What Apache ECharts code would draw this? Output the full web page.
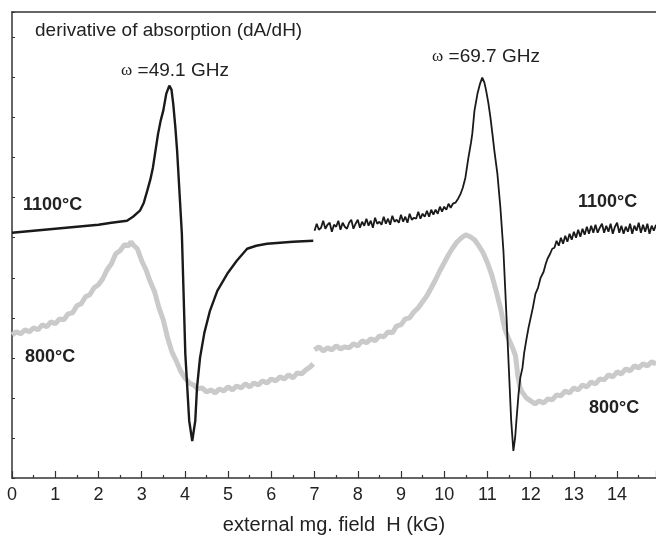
<!DOCTYPE html>
<html>
<head>
<meta charset="utf-8">
<script src="https://cdn.jsdelivr.net/npm/echarts@6/dist/echarts.min.js"></script>
<style>
html,body{margin:0;padding:0;background:#fff;}
#chart{width:656px;height:537px;}
</style>
</head>
<body>
<div id="chart"></div>
<script>
// ---- data (field in kG, signal in arbitrary units) ----
var xTickLabels = ['0','1','2','3','4','5','6','7','8','9','10','11','12','13','14'];

// 1100°C, low-field sweep (49.1 GHz)
var h1100a = [0.0,0.5,1.0,1.5,2.0,2.3,2.66,2.8,2.96,3.05,3.13,3.2,3.26,3.32,3.38,3.44,3.5,3.57,3.64,3.69,3.73,3.78,3.82,3.93,4.01,4.1,4.17,4.24,4.28,4.35,4.45,4.58,4.75,4.98,5.2,5.44,5.65,5.9,6.2,6.5,6.97];
var s1100a = [245,247,249,251,253,255,257,261,267,275,287,298,310,327,344,357,367,384,392,388,374,350,327,244,124,57,37,57,90,120,145,167,187,204,217,229,232,234,235,236,237];

// 800°C, low-field sweep
var h800a = [0.0,0.1,0.2,0.3,0.4,0.5,0.6,0.7,0.8,0.9,1.0,1.1,1.2,1.3,1.4,1.5,1.6,1.7,1.8,1.9,2.0,2.1,2.2,2.3,2.4,2.5,2.6,2.7,2.75,2.8,2.9,3.0,3.1,3.2,3.3,3.4,3.5,3.6,3.7,3.8,3.9,4.0,4.1,4.2,4.3,4.4,4.5,4.6,4.7,4.8,4.9,5.0,5.1,5.2,5.3,5.4,5.5,5.6,5.7,5.8,5.9,6.0,6.1,6.2,6.3,6.4,6.5,6.6,6.7,6.8,6.9,6.97];
var s800a = [143,146,144,148,146,150,148,153,151,156,154,159,158,164,165,172,174,181,183,190,193,199,208,214,224,227,233,232,236,233,229,217,208,196,186,170,158,140,126,117,107,100,95,93,89,90,86,88,85,89,87,91,88,92,90,94,91,95,93,97,95,99,97,101,99,103,100,105,104,108,111,114];

// 1100°C, high-field sweep (69.7 GHz)
var h1100b = [7.0,7.05,7.1,7.15,7.2,7.25,7.3,7.35,7.4,7.45,7.5,7.55,7.6,7.65,7.7,7.75,7.8,7.85,7.9,7.95,8.0,8.05,8.1,8.15,8.2,8.25,8.3,8.35,8.4,8.45,8.5,8.55,8.6,8.65,8.7,8.75,8.8,8.85,8.9,8.95,9.0,9.05,9.1,9.15,9.2,9.25,9.3,9.35,9.4,9.45,9.5,9.55,9.6,9.65,9.7,9.75,9.8,9.85,9.9,9.95,10.0,10.05,10.1,10.15,10.2,10.26,10.32,10.37,10.43,10.49,10.56,10.62,10.65,10.7,10.77,10.83,10.88,10.93,10.97,11.02,11.07,11.12,11.16,11.23,11.3,11.37,11.41,11.48,11.55,11.6,11.64,11.67,11.72,11.76,11.81,11.85,11.9,11.95,12.0,12.05,12.11,12.17,12.23,12.3,12.35,12.39,12.45,12.5,12.55,12.6,12.65,12.7,12.75,12.8,12.85,12.9,12.95,13.0,13.05,13.1,13.15,13.2,13.25,13.3,13.35,13.4,13.45,13.5,13.55,13.6,13.65,13.7,13.75,13.8,13.85,13.9,13.95,14.0,14.05,14.1,14.15,14.2,14.25,14.3,14.35,14.4,14.45,14.5,14.55,14.6,14.65,14.7,14.75,14.8,14.85,14.9];
var s1100b = [247,254,248,250,257,249,253,255,246,253,251,257,248,255,251,249,255,258,249,254,258,250,256,252,259,252,257,250,260,254,256,253,261,254,259,253,262,256,258,255,263,256,261,255,264,258,260,259,266,259,264,261,267,261,268,263,268,264,271,266,271,268,274,270,274,275,279,283,290,300,320,335,344,367,384,394,400,395,387,375,360,342,327,304,270,227,190,124,57,27,40,57,84,100,110,125,138,150,160,170,184,190,200,206,214,219,224,229,230,237,232,240,234,242,236,244,238,246,240,248,241,249,243,251,244,252,245,253,245,250,254,245,252,246,254,244,251,255,245,252,244,251,246,254,244,252,247,255,245,253,246,254,244,252,247,253];

// 800°C, high-field sweep
var h800b = [7.0,7.1,7.2,7.3,7.4,7.5,7.6,7.7,7.8,7.9,8.0,8.1,8.2,8.3,8.4,8.5,8.6,8.7,8.8,8.9,9.0,9.1,9.2,9.3,9.4,9.5,9.6,9.7,9.8,9.9,10.0,10.1,10.2,10.3,10.4,10.5,10.6,10.7,10.8,10.9,11.0,11.1,11.2,11.3,11.4,11.5,11.6,11.65,11.7,11.75,11.8,11.9,12.0,12.1,12.2,12.3,12.4,12.5,12.6,12.7,12.8,12.9,13.0,13.1,13.2,13.3,13.4,13.5,13.6,13.7,13.8,13.9,14.0,14.1,14.2,14.3,14.4,14.5,14.6,14.7,14.8,14.9];
var s800b = [128,131,127,130,128,132,129,131,130,134,132,137,135,139,137,142,141,146,145,152,153,159,160,166,170,176,182,190,198,207,215,223,230,236,240,243,241,238,232,225,215,203,187,170,149,138,128,122,103,91,86,80,77,74,77,75,79,78,83,82,87,85,90,88,93,91,96,94,99,98,103,101,106,104,109,107,112,110,114,112,116,114];

function pairs(xs, ys){ var out=[]; for(var i=0;i<xs.length;i++){ out.push([xs[i], ys[i]]); } return out; }

var chart = echarts.init(document.getElementById('chart'), null, {renderer:'canvas'});
var txt = '#222';
var FONT = '"Liberation Sans", Arial, sans-serif';
var option = {
  animation:false,
  backgroundColor:'#fff',
  grid:{left:12, right:0, top:12, bottom:59, containLabel:false, outerBoundsMode:'none'},
  xAxis:[{
    type:'value', min:0, max:14.9, interval:1,
    axisLine:{show:true, onZero:false, lineStyle:{color:'#333', width:1.5}},
    axisTick:{show:true, inside:true, length:7, lineStyle:{color:'#333', width:1.2}},
    minorTick:{show:true, splitNumber:2, length:3, lineStyle:{color:'#333', width:1.2}},
    splitLine:{show:false},
    axisLabel:{
      color:txt, fontSize:18, fontFamily:FONT, margin:8, showMaxLabel:false,
      formatter:function(v){ var i=Math.round(v); return (Math.abs(v-i)<1e-6 && i<xTickLabels.length)?xTickLabels[i]:''; }
    },
    name:'external mg. field  H (kG)', nameLocation:'middle', nameGap:37,
    nameTextStyle:{color:txt, fontSize:20, fontFamily:FONT}
  },{
    type:'value', position:'top', min:0, max:14.9,
    axisLine:{show:true, onZero:false, lineStyle:{color:'#333', width:1.5}},
    axisTick:{show:false}, axisLabel:{show:false}, splitLine:{show:false}
  }],
  yAxis:{
    type:'value', min:0, max:465.5, interval:40,
    axisLine:{show:true, onZero:false, lineStyle:{color:'#333', width:1.5}},
    axisTick:{show:true, inside:true, length:3, lineStyle:{color:'#333', width:1}},
    axisLabel:{show:false}, splitLine:{show:false}
  },
  series:[
    {type:'line', name:'800a', data:pairs(h800a,s800a), showSymbol:false, symbol:'none', lineStyle:{color:'#cacaca', width:5}, z:2},
    {type:'line', name:'800b', data:pairs(h800b,s800b), showSymbol:false, symbol:'none', lineStyle:{color:'#cacaca', width:5}, z:2},
    {type:'line', name:'1100a', data:pairs(h1100a,s1100a), showSymbol:false, symbol:'none', lineStyle:{color:'#1a1a1a', width:2.4}, z:3},
    {type:'line', name:'1100b', data:pairs(h1100b,s1100b), showSymbol:false, symbol:'none', lineStyle:{color:'#1a1a1a', width:1.8}, z:3}
  ],
  graphic:[
    {type:'text', x:35, y:31, style:{text:'derivative of absorption (dA/dH)', fill:txt, font:'19px '+FONT, verticalAlign:'middle', align:'left'}},
    {type:'text', x:175, y:71, style:{text:'{w|ω} =49.1 GHz', fill:txt, font:'19px '+FONT, align:'center', verticalAlign:'middle',
      rich:{w:{fontFamily:'"Liberation Serif", serif', fontSize:17, fill:txt}}}},
    {type:'text', x:486, y:57, style:{text:'{w|ω} =69.7 GHz', fill:txt, font:'19px '+FONT, align:'center', verticalAlign:'middle',
      rich:{w:{fontFamily:'"Liberation Serif", serif', fontSize:17, fill:txt}}}},
    {type:'text', x:23, y:205, style:{text:'1100°C', fill:txt, font:'bold 18px '+FONT, verticalAlign:'middle', align:'left'}},
    {type:'text', x:578, y:202, style:{text:'1100°C', fill:txt, font:'bold 18px '+FONT, verticalAlign:'middle', align:'left'}},
    {type:'text', x:25, y:357, style:{text:'800°C', fill:txt, font:'bold 18px '+FONT, verticalAlign:'middle', align:'left'}},
    {type:'text', x:589, y:408, style:{text:'800°C', fill:txt, font:'bold 18px '+FONT, verticalAlign:'middle', align:'left'}}
  ]
};
chart.setOption(option);
</script>
</body>
</html>
